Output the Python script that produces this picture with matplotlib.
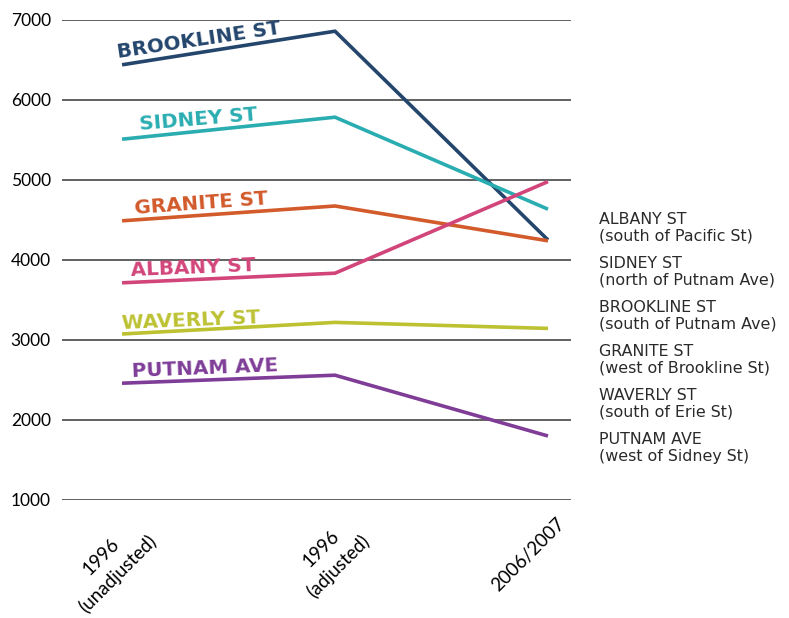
import matplotlib
matplotlib.use("Agg")
import matplotlib.pyplot as plt

# Data
periods = ["1996\n(unadjusted)", "1996\n(adjusted)", "2006/2007"]
streets = ["BROOKLINE ST", "SIDNEY ST", "GRANITE ST", "ALBANY ST", "WAVERLY ST", "PUTNAM AVE"]
brookline = [6440, 6860, 4250]
sidney = [5510, 5785, 4635]
granite = [4490, 4675, 4240]
albany = [3715, 3835, 4980]
waverly = [3075, 3220, 3145]
putnam = [2460, 2560, 1800]
series = [brookline, sidney, granite, albany, waverly, putnam]
colors = ["#24466d", "#2aadb1", "#d25a2b", "#d2457a", "#bcc232", "#7f3d97"]

# where the in-chart labels sit (x in category units, y in data units, angle)
label_pos = [(-0.02, 6525, 8.5), (0.085, 5625, 4.8), (0.06, 4575, 4.2),
             (0.042, 3800, 2.3), (0.0, 3137, 2.4), (0.047, 2537, 2.3)]

side_notes = ["ALBANY ST\n(south of Pacific St)",
              "SIDNEY ST\n(north of Putnam Ave)",
              "BROOKLINE ST\n(south of Putnam Ave)",
              "GRANITE ST\n(west of Brookline St)",
              "WAVERLY ST\n(south of Erie St)",
              "PUTNAM AVE\n(west of Sidney St)"]

fig = plt.figure(figsize=(7.89, 6.18), dpi=100)
ax = fig.add_axes([62 / 789, 1 - 500 / 618, (571 - 62) / 789, 480 / 618])

x = list(range(len(periods)))
for vals, col in zip(series, colors):
    ax.plot(x, vals, color=col, lw=2.6, solid_capstyle="butt", zorder=3)

for name, col, (lx, ly, rot) in zip(streets, colors, label_pos):
    ax.text(lx, ly, name, color=col, fontsize=14.3, fontweight="bold",
            rotation=rot, rotation_mode="anchor", ha="left", va="baseline",
            family="DejaVu Sans", zorder=4)

ax.set_xlim(-0.282, 2.108)
ax.set_ylim(1000, 7000)
ax.set_yticks(range(1000, 8000, 1000))
ax.grid(axis="y", color="#555555", lw=1.3)
ax.set_axisbelow(True)
for s in ax.spines.values():
    s.set_visible(False)
ax.tick_params(length=0)
ax.tick_params(axis="y", pad=8, labelsize=12.5)
ax.set_yticklabels([str(v) for v in range(1000, 8000, 1000)], family="Lato")

ax.set_xticks(x)
ax.set_xticklabels([])
for xi, lab in zip(x, periods):
    ax.text(xi + 0.04, 820, lab, rotation=45, rotation_mode="anchor",
            ha="right", va="top", multialignment="center", fontsize=13.5,
            family="Lato", linespacing=1.45)

for i, note in enumerate(side_notes):
    fig.text(599 / 789, 1 - (212 + 44 * i) / 618, note, ha="left", va="top",
             fontsize=11.4, family="DejaVu Sans", color="#2a2a2a", linespacing=1.15)

fig.savefig("out.png", dpi=100)
